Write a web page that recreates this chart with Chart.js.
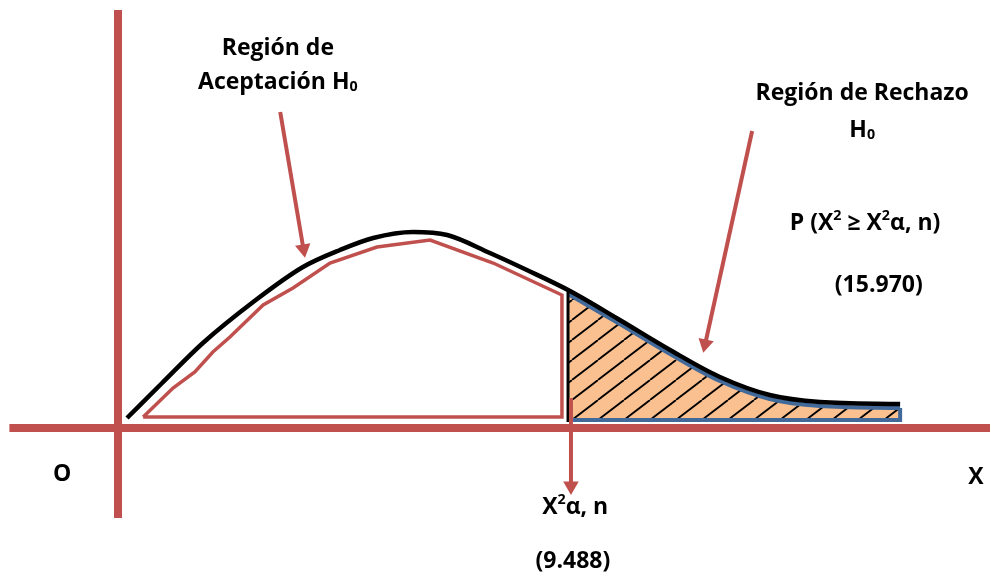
<!DOCTYPE html>
<html>
<head>
<meta charset="utf-8">
<script src="https://cdn.jsdelivr.net/npm/chart.js@4.4.1/dist/chart.umd.min.js"></script>
<style>
  html, body { margin: 0; padding: 0; background: #fff; }
  #wrap { width: 990px; height: 581px; }
</style>
</head>
<body>
<div id="wrap"><canvas id="chi_Chart"></canvas></div>
<script>
// x in chi-square units, y in density units
const curveX = [0.19, 0.93, 1.79, 2.85, 3.90, 4.68, 5.38, 6.22, 6.94, 7.84, 8.62, 9.53, 10.58, 11.64, 12.69, 13.74, 14.80, 16.49];
const curveY = [0.010, 0.045, 0.085, 0.126, 0.161, 0.178, 0.190, 0.196, 0.193, 0.175, 0.158, 0.137, 0.108, 0.078, 0.051, 0.033, 0.026, 0.024];

// red outline of the acceptance region (closed)
const acceptX = [0.53, 1.16, 1.62, 2.00, 2.36, 3.06, 3.69, 4.47, 5.46, 6.58, 7.91, 9.36, 9.36, 0.53];
const acceptY = [0.011, 0.040, 0.056, 0.076, 0.091, 0.123, 0.140, 0.165, 0.181, 0.188, 0.165, 0.133, 0.011, 0.011];

// shaded rejection region (upper edge)
const rejectX = [9.488, 10.58, 11.64, 12.69, 13.74, 14.80, 16.49];
const rejectY = [0.134, 0.104, 0.074, 0.047, 0.029, 0.022, 0.020];

const critical = 9.488;   // X²α,n
const pValue = '15.970';
const baseY = 0.008;

const pts = (xs, ys) => xs.map((x, i) => ({ x: x, y: ys[i] }));

const RED = '#C0504D';
const BLUE = '#41699A';

function hatch() {
  const c = document.createElement('canvas');
  c.width = 26; c.height = 20;
  const g = c.getContext('2d');
  g.fillStyle = '#FAC090';
  g.fillRect(0, 0, 26, 20);
  g.strokeStyle = '#000';
  g.lineWidth = 1.8;
  for (const dx of [-26, 0, 26]) {
    g.beginPath(); g.moveTo(dx, 20); g.lineTo(dx + 26, 0); g.stroke();
  }
  return g.createPattern(c, 'repeat');
}

// arrow head rotation from the two points of the arrow, in screen space
function headRotation(ctx) {
  const d = ctx.dataset.data;
  const sx = ctx.chart.scales.x, sy = ctx.chart.scales.y;
  const dx = sx.getPixelForValue(d[1].x) - sx.getPixelForValue(d[0].x);
  const dy = sy.getPixelForValue(d[1].y) - sy.getPixelForValue(d[0].y);
  return Math.atan2(dx, -dy) * 180 / Math.PI;
}

function arrow(data) {
  return {
    data: data,
    borderColor: RED,
    backgroundColor: RED,
    borderWidth: 4,
    pointStyle: 'triangle',
    pointRadius: [0, 9],
    pointBorderWidth: 0,
    pointRotation: headRotation,
    order: 2
  };
}

const labels = [
  { x: 3.37, y: 0.380, parts: [['Región de']] },
  { x: 3.37, y: 0.346, parts: [['Aceptación H'], ['0', 'sub']] },
  { x: 15.69, y: 0.335, parts: [['Región de Rechazo']] },
  { x: 15.69, y: 0.298, parts: [['H'], ['0', 'sub']] },
  { x: 15.75, y: 0.205, parts: [['P (X'], ['2', 'sup'], [' ≥ X'], ['2', 'sup'], ['α, n)']] },
  { x: 16.04, y: 0.143, parts: [['(' + pValue + ')']] },
  { x: -1.18, y: -0.046, parts: [['O']] },
  { x: 18.09, y: -0.049, parts: [['X']] },
  { x: 9.64, y: -0.079, parts: [['X'], ['2', 'sup'], ['α, n']] },
  { x: 9.59, y: -0.133, parts: [['(' + critical + ')']] }
];

const textPlugin = {
  id: 'texts',
  afterDraw(chart) {
    const c = chart.ctx, sx = chart.scales.x, sy = chart.scales.y;
    const size = 23;
    const font = s => 'bold ' + s + 'px "Open Sans", Lato, sans-serif';
    c.save();
    c.fillStyle = '#000';
    c.textBaseline = 'middle';
    c.textAlign = 'left';
    labels.forEach(l => {
      let w = 0;
      l.parts.forEach(p => {
        c.font = font(p[1] ? size * 0.62 : size);
        w += c.measureText(p[0]).width;
      });
      let px = sx.getPixelForValue(l.x) - w / 2;
      const py = sy.getPixelForValue(l.y);
      l.parts.forEach(p => {
        const s = p[1] ? size * 0.62 : size;
        c.font = font(s);
        let off = 0;
        if (p[1] === 'sup') off = -size * 0.3;
        if (p[1] === 'sub') off = size * 0.22;
        c.fillText(p[0], px, py + off);
        px += c.measureText(p[0]).width;
      });
    });
    c.restore();
  }
};

document.addEventListener('DOMContentLoaded', () => {
  const ctx = document.getElementById('chi_Chart').getContext('2d');
  new Chart(ctx, {
    type: 'line',
    data: {
      datasets: [
        { // shaded rejection region
          data: pts(rejectX, rejectY),
          borderColor: BLUE,
          borderWidth: 4,
          backgroundColor: hatch(),
          fill: { value: baseY },
          cubicInterpolationMode: 'monotone',
          pointRadius: 0,
          order: 9
        },
        { // x axis
          data: [{ x: -2.29, y: 0 }, { x: 18.4, y: 0 }],
          borderColor: RED, borderWidth: 8, pointRadius: 0, order: 8
        },
        { // y axis
          data: [{ x: 0, y: 0.418 }, { x: 0, y: -0.090 }],
          borderColor: RED, borderWidth: 8, pointRadius: 0, order: 8
        },
        { // acceptance outline
          data: pts(acceptX, acceptY),
          borderColor: RED, borderWidth: 3.5, pointRadius: 0, tension: 0, order: 7
        },
        { // bottom and right edge of the rejection region
          data: [{ x: critical, y: baseY }, { x: rejectX[rejectX.length - 1], y: baseY }, { x: rejectX[rejectX.length - 1], y: rejectY[rejectY.length - 1] }],
          borderColor: BLUE, borderWidth: 4, pointRadius: 0, order: 6
        },
        { // density curve
          data: pts(curveX, curveY),
          borderColor: '#000', borderWidth: 4.5, pointRadius: 0,
          cubicInterpolationMode: 'monotone', order: 5
        },
        { // critical value line
          data: [{ x: critical, y: baseY - 0.002 }, { x: critical, y: 0.138 }],
          borderColor: '#000', borderWidth: 3, pointRadius: 0, order: 4
        },
        arrow([{ x: 3.42, y: 0.316 }, { x: 3.91, y: 0.179 }]),
        arrow([{ x: 13.37, y: 0.297 }, { x: 12.38, y: 0.084 }]),
        arrow([{ x: 9.55, y: 0.030 }, { x: 9.55, y: -0.058 }])
      ]
    },
    options: {
      responsive: true,
      maintainAspectRatio: false,
      animation: false,
      layout: { padding: 0, autoPadding: false },
      plugins: { legend: { display: false }, tooltip: { enabled: false } },
      scales: {
        x: { type: 'linear', min: -2.488, max: 18.385, display: false },
        y: { type: 'linear', min: -0.153, max: 0.428, display: false }
      }
    },
    plugins: [textPlugin]
  });
});
</script>
</body>
</html>
